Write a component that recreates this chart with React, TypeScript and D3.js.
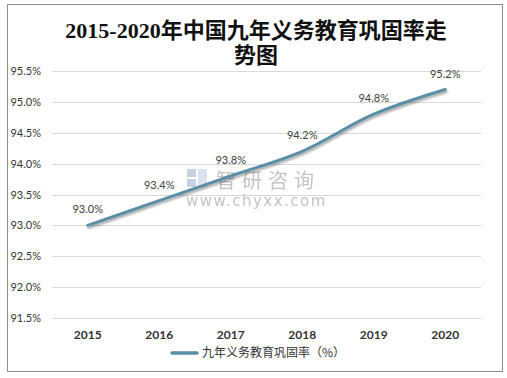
import React from "react";
import * as d3 from "d3";

const years = ["2015", "2016", "2017", "2018", "2019", "2020"];
const rates = [93.0, 93.4, 93.8, 94.2, 94.8, 95.2];
const yTicks = [91.5, 92.0, 92.5, 93.0, 93.5, 94.0, 94.5, 95.0, 95.5];
const titleLines = ["2015-2020年中国九年义务教育巩固率走", "势图"];
const seriesName = "九年义务教育巩固率（%）";

export default function App() {
  const W = 507, H = 378;
  const x = d3.scaleBand().domain(years).range([52, 481]);
  const y = d3.scaleLinear().domain([91.5, 95.5]).range([318, 71]);
  const pts: [number, number][] = years.map((yr, i) => [x(yr)! + x.bandwidth() / 2, y(rates[i])]);
  const line = d3.line().curve(d3.curveCatmullRom.alpha(0.5))(pts) || "";
  const color = "#5a8ea6";
  const labelFont = "Lato, 'Open Sans', sans-serif";
  return (
    <svg width={W} height={H} style={{ position: "absolute", left: 0, top: 0, display: "block" }}>
      <defs>
        <filter id="sh" x="-10%" y="-10%" width="120%" height="130%">
          <feDropShadow dx="1" dy="2" stdDeviation="1.2" floodColor="#000" floodOpacity="0.35" />
        </filter>
      </defs>
      <rect x={0} y={0} width={W} height={H} fill="#fff" />
      <rect x={7.5} y={4.5} width={495} height={367} fill="#fff" stroke="#8c8c8c" strokeWidth={1} />
      {titleLines.map((t, i) => (
        <text key={i} x={256} y={38 + i * 25} textAnchor="middle" fontSize={22} fontWeight="bold"
          fontFamily="'Liberation Serif', 'Noto Sans CJK SC', serif" fill="#111">{t}</text>
      ))}
      {yTicks.map((v) => (
        <g key={v}>
          <line x1={52} x2={481} y1={Math.round(y(v)) + 0.5} y2={Math.round(y(v)) + 0.5} stroke="#d9d9d9" strokeWidth={1} />
          <text x={41} y={y(v) + 4} textAnchor="end" fontSize={11} fontFamily={labelFont} fill="#333">{v.toFixed(1)}%</text>
        </g>
      ))}
      {years.map((yr) => (
        <text key={yr} x={x(yr)! + x.bandwidth() / 2} y={339} textAnchor="middle" fontSize={12} fontWeight="bold"
          fontFamily={labelFont} fill="#333">{yr}</text>
      ))}
      <g opacity={0.5}>
        <rect x={187} y={169} width={9} height={8} fill="#8fa7c9" />
        <rect x={187} y={179} width={9} height={8} fill="#8fa7c9" />
        <rect x={198} y={169} width={9} height={18} fill="#b9c7dc" />
        <text x={216} y={188} fontSize={20} fontFamily="'Noto Sans CJK SC', sans-serif" fill="#888" letterSpacing={6}>智研咨询</text>
        <text x={186} y={206} fontSize={15} fontFamily="'DejaVu Sans', sans-serif" fill="#888" letterSpacing={1.5}>www.chyxx.com</text>
      </g>
      <path d={line} fill="none" stroke={color} strokeWidth={3} strokeLinecap="round" filter="url(#sh)" />
      {pts.map((p, i) => (
        <text key={i} x={p[0]} y={p[1] - 12} textAnchor="middle" fontSize={11} fontFamily={labelFont} fill="#404040">
          {rates[i].toFixed(1)}%
        </text>
      ))}
      <line x1={172} x2={197} y1={353} y2={353} stroke={color} strokeWidth={3.5} strokeLinecap="round" />
      <text x={202} y={357} fontSize={12} fontFamily="'Noto Sans CJK SC', sans-serif" fill="#333">{seriesName}</text>
    </svg>
  );
}
